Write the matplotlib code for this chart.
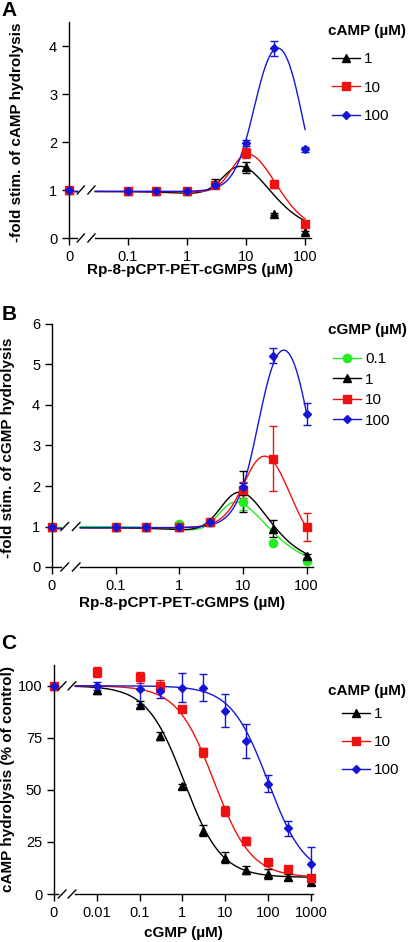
import matplotlib
matplotlib.use("Agg")
import matplotlib.pyplot as plt
from matplotlib.lines import Line2D
import numpy as np

plt.rcParams['font.family'] = ['Liberation Sans', 'DejaVu Sans']
plt.rcParams['font.size'] = 10
plt.rcParams['axes.linewidth'] = 1.0

# ---- panel A: cAMP hydrolysis vs Rp-8-pCPT-PET-cGMPS ----
conc_ab = [0, 0.1, 0.3, 1, 3, 10, 30, 100]
a_labels = ['1', '10', '100']
a_black = [1.0, 0.98, 0.97, 0.98, 1.15, 1.47, 0.50, 0.12]
a_black_err = [0, 0.02, 0.02, 0.03, 0.08, 0.12, 0.03, 0.03]
a_red = [1.0, 0.98, 0.97, 0.98, 1.10, 1.77, 1.12, 0.30]
a_red_err = [0, 0.03, 0.03, 0.05, 0.05, 0.10, 0.07, 0.03]
a_blue = [1.0, 0.98, 0.97, 0.97, 1.10, 1.98, 3.95, 1.85]
a_blue_err = [0, 0.02, 0.02, 0.03, 0.04, 0.07, 0.15, 0.05]
# bell-shaped fit parameters: base, top, bottom, logEC1, hill1, logEC2, hill2
a_black_fit = [0.97, 2.4, 0.1, 0.65, 2.5, 1.25, 1.2]
a_red_fit = [0.97, 2.4, 0.1, 0.78, 3.0, 1.45, 1.5]
a_blue_fit = [0.97, 4.67, 0.5, 1.15, 2.5, 1.95, 2.5]

# ---- panel B: cGMP hydrolysis vs Rp-8-pCPT-PET-cGMPS ----
b_labels = ['0.1', '1', '10', '100']
b_green = [1.0, 1.0, 1.0, 1.05, 1.10, 1.60, 0.60, 0.15]
b_green_err = [0, 0.02, 0.03, 0.05, 0.05, 0.20, 0.03, 0.03]
b_black = [1.0, 1.0, 0.98, 1.0, 1.10, 1.87, 0.95, 0.27]
b_black_err = [0, 0.02, 0.03, 0.03, 0.05, 0.50, 0.20, 0.05]
b_red = [1.0, 1.0, 0.98, 1.0, 1.10, 1.90, 2.67, 0.98]
b_red_err = [0, 0.02, 0.03, 0.05, 0.05, 0.20, 0.80, 0.35]
b_blue = [1.0, 1.0, 1.0, 1.0, 1.10, 1.98, 5.22, 3.78]
b_blue_err = [0, 0.02, 0.03, 0.03, 0.05, 0.10, 0.18, 0.28]
b_green_fit = [1.0, 2.61, 0.0, 0.65, 3.0, 1.22, 1.2]
b_black_fit = [0.97, 3.38, 0.05, 0.7, 2.5, 1.2, 1.3]
b_red_fit = [0.97, 3.72, 0.3, 1.05, 2.5, 1.7, 2.0]
b_blue_fit = [0.97, 6.38, 0.5, 1.25, 2.5, 2.05, 2.5]

# ---- panel C: cAMP hydrolysis vs cGMP ----
conc_c = [0, 0.01, 0.1, 0.3, 1, 3, 10, 30, 100, 300, 1000]
c_labels = ['1', '10', '100']
c_black = [100, 98, 91, 76, 52, 30.5, 17.5, 11.5, 9.5, 8, 6]
c_black_err = [0, 2, 1.5, 2, 1, 2.5, 2.5, 2, 2.5, 1.5, 1.5]
c_red = [100, 106.5, 104, 100, 89, 68, 40, 25.5, 15.5, 12, 7.5]
c_red_err = [0, 2.5, 2.5, 3, 1.5, 2, 2.5, 2, 1.5, 1.5, 1.5]
c_blue = [100, 100, 98.5, 97.5, 99, 99, 88, 73.5, 53, 31.5, 14.5]
c_blue_err = [0, 2, 7, 3.5, 7, 6.5, 8, 8, 4, 3.5, 8]
# sigmoid fit parameters: top, bottom, logIC50, hill
c_black_fit = [100, 8, 0.04, 1.0]
c_red_fit = [100, 8, 0.74, 1.0]
c_blue_fit = [100, 8, 2.0, 1.0]

BLACK = '#000000'
RED = '#ee1111'
BLUE = '#1515d8'
GREEN = '#22ee22'

W, H = 408, 942
fig = plt.figure(figsize=(W / 100, H / 100), dpi=100)


def bell(x, p):
    base, top, bottom, c1, h1, c2, h2 = p
    return base + (top - base) / (1 + 10 ** (h1 * (c1 - x))) - (top - bottom) / (1 + 10 ** (h2 * (c2 - x)))


def sigm(x, p):
    top, bottom, c, h = p
    return bottom + (top - bottom) / (1 + 10 ** (h * (x - c)))


def to_pos(conc, zero_pos):
    return np.array([zero_pos if v == 0 else np.log10(v) for v in conc])


def make_axes(left, right, top, bottom):
    return fig.add_axes([left / W, 1 - bottom / H, (right - left) / W, (bottom - top) / H])


def style(ax, xmin, xmax, ymax, yticks, xticks, xticklabels, brk):
    ax.set_xlim(xmin, xmax)
    ax.set_ylim(0, ymax)
    ax.spines['top'].set_visible(False)
    ax.spines['right'].set_visible(False)
    ax.spines['bottom'].set_bounds(brk[1], xmax)
    ax.set_yticks(yticks)
    ax.set_xticks(xticks)
    ax.set_xticklabels(xticklabels)
    ax.tick_params(direction='out', length=5, width=1, labelsize=10.5)
    ax.plot([xmin, brk[0]], [0, 0], color='k', lw=1, clip_on=False)


def slashes(ax, xcs, y, half_w, half_h_px=4):
    ylo, yhi = ax.get_ylim()
    h_px = ax.get_position().height * H
    dy = (yhi - ylo) * half_h_px / h_px
    for xc in xcs:
        ax.plot([xc - half_w, xc + half_w], [y - dy, y + dy], color='k', lw=1, clip_on=False, zorder=6)


def series(ax, x, y, err, color, marker, ms, curve_x, curve_y, zero_x, base, brk):
    ax.plot([zero_x, brk[0]], [base, base], color=color, lw=1, zorder=2, clip_on=False)
    ax.plot(curve_x, curve_y, color=color, lw=1, zorder=2)
    ax.errorbar(x, y, yerr=err, fmt='none', ecolor=color, elinewidth=1, capsize=3, capthick=1, zorder=3, clip_on=False)
    ax.plot(x, y, ls='none', marker=marker, color=color, ms=ms, mec=color, zorder=4, clip_on=False)


def legend(ax, title, title_y, labels, colors, markers, sizes, x, y, spacing):
    fig.text(328 / W, 1 - title_y / H, title, fontsize=11, fontweight='bold', va='center', ha='left')
    handles = [Line2D([0], [0], color=c, marker=m, ms=s, lw=1) for c, m, s in zip(colors, markers, sizes)]
    ax.legend(handles, labels, loc='upper left', bbox_to_anchor=(x / W, 1 - y / H),
              bbox_transform=fig.transFigure, frameon=False, fontsize=11,
              handlelength=1.85, handletextpad=0.25, labelspacing=spacing, borderpad=0, borderaxespad=0)


# ================= A =================
axA = make_axes(69, 311, 22, 238)
brkA = (-1.865, -1.555)
style(axA, -2, 2.1, 4.5, [0, 1, 2, 3, 4], [-2, -1, 0, 1, 2], ['0', '0.1', '1', '10', '100'], brkA)
xa = to_pos(conc_ab, -2)
cx = np.linspace(brkA[1], 2, 300)
for vals, err, col, mk, ms, fit in [(a_black, a_black_err, BLACK, '^', 6, a_black_fit),
                                    (a_red, a_red_err, RED, 's', 5.5, a_red_fit),
                                    (a_blue, a_blue_err, BLUE, 'D', 4.5, a_blue_fit)]:
    series(axA, xa, vals, err, col, mk, ms, cx, bell(cx, fit), -2, bell(-2, fit), brkA)
slashes(axA, [-1.8, -1.62], 0, 0.06)
slashes(axA, [-1.8, -1.62], 1.0, 0.06)
axA.set_xlabel('Rp-8-pCPT-PET-cGMPS (µM)', fontsize=11, fontweight='bold')
axA.xaxis.set_label_coords(0.5, -0.115)
axA.set_ylabel('-fold stim. of cAMP hydrolysis', fontsize=11, fontweight='bold')
axA.yaxis.set_label_coords(-0.185, 0.49)
legend(axA, 'cAMP (µM)', 31, a_labels, [BLACK, RED, BLUE], ['^', 's', 'D'], [6, 5.5, 4.5], 332, 52, 0.96)

# ================= B =================
axB = make_axes(52, 313, 324, 567)
brkB = (-1.865, -1.555)
style(axB, -2, 2.1, 6, [0, 1, 2, 3, 4, 5, 6], [-2, -1, 0, 1, 2], ['0', '0.1', '1', '10', '100'], brkB)
xb = to_pos(conc_ab, -2)
for vals, err, col, mk, ms, fit in [(b_green, b_green_err, GREEN, 'o', 6, b_green_fit),
                                    (b_black, b_black_err, BLACK, '^', 6, b_black_fit),
                                    (b_red, b_red_err, RED, 's', 5.5, b_red_fit),
                                    (b_blue, b_blue_err, BLUE, 'D', 4.5, b_blue_fit)]:
    series(axB, xb, vals, err, col, mk, ms, cx, bell(cx, fit), -2, bell(-2, fit), brkB)
slashes(axB, [-1.8, -1.62], 0, 0.06)
slashes(axB, [-1.8, -1.62], 1.0, 0.06)
axB.set_xlabel('Rp-8-pCPT-PET-cGMPS (µM)', fontsize=11, fontweight='bold')
axB.xaxis.set_label_coords(0.5, -0.12)
axB.set_ylabel('-fold stim. of cGMP hydrolysis', fontsize=11, fontweight='bold')
axB.yaxis.set_label_coords(-0.142, 0.49)
legend(axB, 'cGMP (µM)', 330, b_labels, [GREEN, BLACK, RED, BLUE], ['o', '^', 's', 'D'], [6, 6, 5.5, 4.5], 333, 352, 0.43)

# ================= C =================
axC = make_axes(54, 313, 665, 894)
brkC = (-2.9, -2.5)
style(axC, -3, 3.05, 110, [0, 25, 50, 75, 100], [-3, -2, -1, 0, 1, 2, 3],
      ['0', '0.01', '0.1', '1', '10', '100', '1000'], brkC)
xc = to_pos(conc_c, -3)
ccx = np.linspace(brkC[1], 3, 300)
for vals, err, col, mk, ms, fit in [(c_black, c_black_err, BLACK, '^', 6, c_black_fit),
                                    (c_red, c_red_err, RED, 's', 5.5, c_red_fit),
                                    (c_blue, c_blue_err, BLUE, 'D', 4.5, c_blue_fit)]:
    series(axC, xc, vals, err, col, mk, ms, ccx, sigm(ccx, fit), -3, sigm(-3, fit), brkC)
slashes(axC, [-2.81, -2.58], 0, 0.09)
slashes(axC, [-2.81, -2.58], 100, 0.09)
axC.set_xlabel('cGMP (µM)', fontsize=11, fontweight='bold')
axC.xaxis.set_label_coords(0.5, -0.14)
axC.set_ylabel('cAMP hydrolysis (% of control)', fontsize=11, fontweight='bold')
axC.yaxis.set_label_coords(-0.152, 0.5)
legend(axC, 'cAMP (µM)', 691, c_labels, [BLACK, RED, BLUE], ['^', 's', 'D'], [6, 5.5, 4.5], 342, 707, 0.92)

# panel letters
fig.text(0.003, 1 - 1 / H, 'A', fontsize=15, fontweight='bold', va='top')
fig.text(0.003, 1 - 305 / H, 'B', fontsize=15, fontweight='bold', va='top')
fig.text(0.003, 1 - 634 / H, 'C', fontsize=15, fontweight='bold', va='top')

fig.savefig('out.png', dpi=100)
